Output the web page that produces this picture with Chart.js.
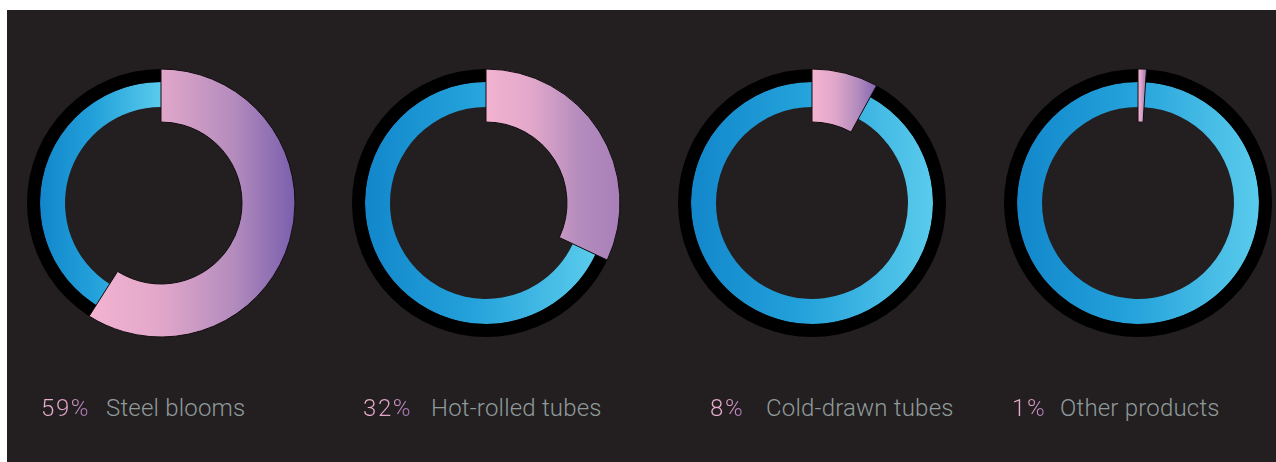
<!DOCTYPE html>
<html>
<head>
<meta charset="utf-8">
<script src="https://cdn.jsdelivr.net/npm/chart.js@4.4.1/dist/chart.umd.min.js"></script>
<style>
  html, body { margin: 0; padding: 0; background: #ffffff; width: 1276px; height: 462px; overflow: hidden; }
  #panel { position: absolute; left: 7px; top: 10px; width: 1269px; height: 452px; background: #231f20; }
  .ring { position: absolute; width: 300px; height: 300px; }
  .ring canvas { position: absolute; left: 0; top: 0; }
  .lbl { position: absolute; top: 396px; font-family: Roboto, "Open Sans", sans-serif; font-weight: 300;
         font-size: 24px; line-height: 24px; white-space: nowrap; }
  .pct { letter-spacing: 1.6px;
         background: linear-gradient(90deg, #edb2d2 0%, #e2a4ca 55%, #9c6fb6 100%);
         -webkit-background-clip: text; background-clip: text; color: transparent; }
  .name { color: #8f9a9a; letter-spacing: 0.2px; }
</style>
</head>
<body>
<div id="panel"></div>
<script>
// Product mix shares (per cent of output)
const products = ['Steel blooms', 'Hot-rolled tubes', 'Cold-drawn tubes', 'Other products'];
const shares = [59, 32, 8, 1];
const shareLabels = ['59%', '32%', '8%', '1%'];

// Layout: ring centres and label positions
const ringCentersX = [161, 486, 812, 1138];
const ringCenterY = 203;
const pctLeft = [41, 363, 710, 1012];
const nameLeft = [106, 431, 766, 1060];
const BOX = 300;

// Radii (px)
const R_OUT = 134;      // black track outer / highlight outer
const R_TRACK_IN = 121; // black track inner / blue outer
const R_BLUE_IN = 96;   // blue inner
const R_HI_IN = 81;     // highlight inner

// Highlight gradient end colours
const hiEndColors = ['#7a5fae', '#a87fb9', '#8466b2', '#b28cc3'];

// Horizontal extent of an annular sector between angles a0..a1
function arcSpanX(cx, rIn, rOut, a0, a1) {
  const xs = [];
  for (const r of [rIn, rOut]) for (const a of [a0, a1]) xs.push(cx + r * Math.cos(a));
  for (let k = -4; k <= 4; k++) {
    const a = k * Math.PI;
    if (a > a0 && a < a1) xs.push(cx + rOut * Math.cos(a));
  }
  return [Math.min(...xs), Math.max(...xs)];
}

function blueGradient(chart, share) {
  const area = chart.chartArea;
  if (!area) return '#2aa5dc';
  const cx = (area.left + area.right) / 2;
  const a0 = -Math.PI / 2 + 2 * Math.PI * share / 100;
  const a1 = -Math.PI / 2 + 2 * Math.PI;
  const [x0, x1] = arcSpanX(cx, R_BLUE_IN, R_TRACK_IN, a0, a1);
  const g = chart.ctx.createLinearGradient(x0, 0, x1, 0);
  g.addColorStop(0, '#1287cb');
  g.addColorStop(0.45, '#23a1da');
  g.addColorStop(1, '#5acbec');
  return g;
}

function highlightGradient(chart, share, endColor) {
  const area = chart.chartArea;
  if (!area) return '#e0a6c9';
  const cx = (area.left + area.right) / 2;
  const a0 = -Math.PI / 2;
  const a1 = -Math.PI / 2 + 2 * Math.PI * share / 100;
  const [x0, x1] = arcSpanX(cx, R_HI_IN, R_OUT, a0, a1);
  const g = chart.ctx.createLinearGradient(x0, 0, x1, 0);
  g.addColorStop(0, '#f3b3d1');
  g.addColorStop(0.35, '#e1a7ca');
  g.addColorStop(0.7, '#b48cbd');
  g.addColorStop(1, endColor);
  return g;
}

const baseOptions = {
  responsive: false,
  animation: false,
  events: [],
  radius: R_OUT,
  layout: { padding: 0 },
  plugins: { legend: { display: false }, tooltip: { enabled: false } }
};

products.forEach((name, i) => {
  const share = shares[i];
  const box = document.createElement('div');
  box.className = 'ring';
  box.style.left = (ringCentersX[i] - BOX / 2) + 'px';
  box.style.top = (ringCenterY - BOX / 2) + 'px';
  const cBase = document.createElement('canvas');
  const cTop = document.createElement('canvas');
  [cBase, cTop].forEach(c => { c.width = BOX; c.height = BOX; box.appendChild(c); });
  document.body.appendChild(box);

  // Track ring and the remaining (blue) share
  new Chart(cBase, {
    type: 'doughnut',
    data: {
      labels: [name, 'Rest'],
      datasets: [
        { data: [100], backgroundColor: '#000000', borderWidth: 0, weight: R_OUT - R_TRACK_IN },
        {
          data: [share, 100 - share],
          backgroundColor: ctx => ctx.dataIndex === 0 ? 'rgba(0,0,0,0)' : blueGradient(ctx.chart, share),
          borderWidth: 0,
          weight: R_TRACK_IN - R_BLUE_IN
        }
      ]
    },
    options: Object.assign({}, baseOptions, { cutout: (R_BLUE_IN / R_OUT * 100) + '%' })
  });

  // Highlighted product share, drawn wider on top
  new Chart(cTop, {
    type: 'doughnut',
    data: {
      labels: [name, 'Rest'],
      datasets: [{
        data: [share, 100 - share],
        backgroundColor: ctx => ctx.dataIndex === 0 ? highlightGradient(ctx.chart, share, hiEndColors[i]) : 'rgba(0,0,0,0)',
        borderColor: ['#140e10', 'rgba(0,0,0,0)'],
        borderWidth: [1, 0]
      }]
    },
    options: Object.assign({}, baseOptions, { cutout: (R_HI_IN / R_OUT * 100) + '%' })
  });

  const p = document.createElement('div');
  p.className = 'lbl pct';
  p.style.left = pctLeft[i] + 'px';
  p.textContent = shareLabels[i];
  document.body.appendChild(p);

  const n = document.createElement('div');
  n.className = 'lbl name';
  n.style.left = nameLeft[i] + 'px';
  n.textContent = name;
  document.body.appendChild(n);
});
</script>
</body>
</html>
